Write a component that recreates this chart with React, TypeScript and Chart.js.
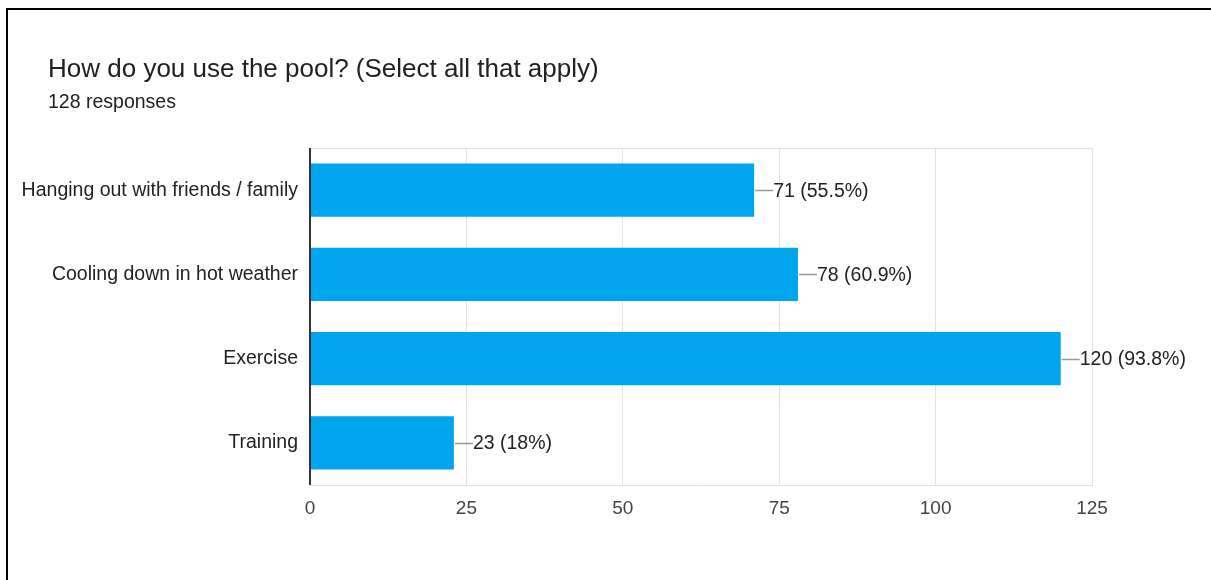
import React, { useEffect, useRef } from "react";
import { Chart, registerables } from "chart.js";

Chart.register(...registerables);

const categories = [
  "Hanging out with friends / family",
  "Cooling down in hot weather",
  "Exercise",
  "Training",
];
const counts = [71, 78, 120, 23];
const percentLabels = ["55.5%", "60.9%", "93.8%", "18%"];
const xTicks = [0, 25, 50, 75, 100, 125];

const FONT = "'Liberation Sans', Arial, Helvetica, sans-serif";

const frameAndLabels = {
  id: "frameAndLabels",
  beforeDatasetsDraw(chart: any) {
    const { ctx, chartArea } = chart;
    ctx.save();
    ctx.strokeStyle = "#e3e3e3";
    ctx.lineWidth = 1;
    ctx.beginPath();
    ctx.moveTo(chartArea.left, chartArea.top + 0.5);
    ctx.lineTo(chartArea.right, chartArea.top + 0.5);
    ctx.stroke();
    ctx.restore();
  },
  afterDatasetsDraw(chart: any) {
    const { ctx, chartArea } = chart;
    const meta = chart.getDatasetMeta(0);
    ctx.save();
    ctx.strokeStyle = "#333333";
    ctx.lineWidth = 2;
    ctx.beginPath();
    ctx.moveTo(chartArea.left, chartArea.top);
    ctx.lineTo(chartArea.left, chartArea.bottom);
    ctx.stroke();
    ctx.font = `19.5px ${FONT}`;
    ctx.textBaseline = "middle";
    ctx.textAlign = "left";
    meta.data.forEach((bar: any, i: number) => {
      const x = bar.x;
      const y = bar.y;
      ctx.strokeStyle = "#999999";
      ctx.lineWidth = 1.5;
      ctx.beginPath();
      ctx.moveTo(x + 1, Math.round(y) + 0.5);
      ctx.lineTo(x + 19, Math.round(y) + 0.5);
      ctx.stroke();
      ctx.fillStyle = "#222222";
      ctx.fillText(`${counts[i]} (${percentLabels[i]})`, x + 19, y + 1);
    });
    ctx.restore();
  },
};

export default function App() {
  const ref = useRef<HTMLCanvasElement>(null);
  useEffect(() => {
    if (!ref.current) return;
    const chart = new Chart(ref.current, {
      type: "bar",
      data: {
        labels: categories,
        datasets: [
          {
            data: counts,
            backgroundColor: "#00a5ed",
            borderWidth: 0,
            categoryPercentage: 1,
            barPercentage: 0.63,
          },
        ],
      },
      options: {
        indexAxis: "y",
        animation: false,
        responsive: false,
        events: [],
        layout: { padding: { top: 148, right: 119, bottom: 55, left: 0 } },
        plugins: {
          legend: { display: false },
          tooltip: { enabled: false },
          title: { display: false },
        },
        scales: {
          x: {
            min: 0,
            max: 125,
            afterBuildTicks: (scale: any) => {
              scale.ticks = xTicks.map((v) => ({ value: v }));
            },
            afterFit: (scale: any) => {
              scale.height = 40;
            },
            grid: { color: "#e3e3e3", drawTicks: false, lineWidth: 1 },
            border: { color: "#e3e3e3", width: 1 },
            ticks: {
              padding: 12,
              color: "#444444",
              font: { family: FONT, size: 19 },
            },
          },
          y: {
            afterFit: (scale: any) => {
              scale.width = 310;
            },
            grid: { display: false, drawTicks: false },
            border: { display: false },
            ticks: {
              padding: 12,
              color: "#222222",
              font: { family: FONT, size: 19.5 },
            },
          },
        },
      },
      plugins: [frameAndLabels],
    });
    return () => chart.destroy();
  }, []);

  return (
    <div style={{ position: "fixed", left: 0, top: 0, width: 1211, height: 580, background: "#fff", overflow: "hidden" }}>
      <div
        style={{
          position: "absolute",
          left: 6,
          top: 8,
          width: 1300,
          height: 700,
          borderLeft: "2px solid #000",
          borderTop: "2px solid #000",
        }}
      />
      <canvas ref={ref} width={1211} height={580} style={{ position: "absolute", left: 0, top: 0 }} />
      <div
        style={{
          position: "absolute",
          left: 48,
          top: 53,
          fontFamily: FONT,
          fontSize: 26,
          lineHeight: "30px",
          color: "#202124",
          whiteSpace: "nowrap",
        }}
      >
        How do you use the pool? (Select all that apply)
      </div>
      <div
        style={{
          position: "absolute",
          left: 48,
          top: 90,
          fontFamily: FONT,
          fontSize: 19.5,
          lineHeight: "22px",
          color: "#202124",
          whiteSpace: "nowrap",
        }}
      >
        128 responses
      </div>
    </div>
  );
}
